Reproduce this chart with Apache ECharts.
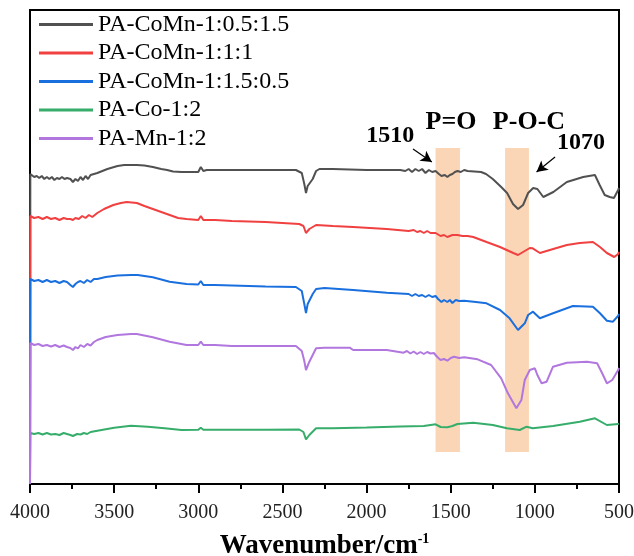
<!DOCTYPE html>
<html>
<head>
<meta charset="utf-8">
<script src="https://cdn.jsdelivr.net/npm/echarts@6/dist/echarts.min.js"></script>
<style>
html,body{margin:0;padding:0;background:#fff;}
#chart{width:634px;height:556px;}
</style>
</head>
<body>
<div id="chart"></div>
<script>
// ---- data: [wavenumber (cm-1), offset transmittance (a.u.)] ----
const seriesNames = ['PA-CoMn-1:0.5:1.5', 'PA-CoMn-1:1:1', 'PA-CoMn-1:1.5:0.5', 'PA-Co-1:2', 'PA-Mn-1:2'];
const seriesColors = ['#515151', '#F14040', '#1A6FDF', '#37AD6B', '#B177DE'];
const xTicks = [4000, 3500, 3000, 2500, 2000, 1500, 1000, 500];

const dataCoMn0515 = [[4000,0],[3998,310],[3975,307],[3960,308],[3945,306],[3930,308],[3915,305],[3900,307],[3885,305],[3870,307],[3855,304],[3840,306],[3825,305],[3810,307],[3795,305],[3780,306],[3760,305],[3745,302],[3730,305],[3715,303],[3700,307],[3685,304],[3670,308],[3655,305],[3640,309],[3620,310],[3600,311],[3570,313],[3540,315],[3500,317],[3480,318],[3440,319],[3400,319],[3365,319],[3320,318.5],[3270,317],[3220,315],[3185,314],[3150,312.5],[3100,312],[3050,312],[3000,312],[2985,317],[2970,313],[2950,314],[2800,314],[2600,314],[2420,314],[2385,311],[2370,300],[2360,291],[2350,298],[2340,297],[2320,305],[2300,313],[2280,315],[2200,315],[2000,314],[1800,314],[1770,313],[1750,315],[1730,312],[1710,315],[1690,313],[1670,315],[1650,311],[1630,314],[1610,312],[1590,313],[1570,310],[1555,308],[1535,309],[1520,307],[1505,309],[1490,310],[1475,312],[1460,313],[1440,312],[1420,314],[1400,313],[1320,312],[1290,310],[1250,305],[1200,297],[1165,291],[1130,280],[1100,275],[1070,279],[1040,291],[1010,296],[1000,298],[985,295],[950,287],[890,292],[810,302],[713,307],[643,309],[615,299],[585,289],[555,287],[530,286],[505,294],[500,296]];

const dataCoMn111 = [[4000,0],[3998,268],[3975,266],[3950,267],[3925,265],[3900,267],[3875,265],[3850,266],[3825,264],[3800,266],[3780,265],[3760,265],[3745,264],[3730,266],[3710,265],[3690,268],[3670,266],[3650,269],[3630,267],[3600,271],[3560,275],[3505,279],[3460,281],[3425,282],[3365,281],[3320,278],[3270,275],[3220,272],[3170,269],[3120,266],[3070,265],[3000,264],[2985,268],[2970,264],[2900,264],[2800,263],[2600,262],[2500,261],[2400,260],[2375,258],[2360,251],[2340,255],[2300,259],[2200,258],[2080,257],[1880,255],[1750,253],[1720,254],[1700,252],[1680,253],[1660,251],[1640,253],[1620,251],[1590,251],[1560,248],[1540,249],[1520,247],[1490,249],[1460,249],[1430,248],[1400,248],[1366,247],[1287,242],[1207,237],[1128,231],[1100,229],[1060,233],[1030,236],[1013,235.7],[970,231],[911,234],[810,239],[733,241],[655,242],[613,237],[572,231],[528,227],[505,230],[500,232]];

const dataCoMn1505 = [[4000,0],[3998,205],[3975,203],[3950,204],[3925,202],[3900,204],[3875,202],[3850,203],[3825,201],[3800,203],[3780,202],[3760,199],[3745,197],[3730,200],[3715,202],[3700,203],[3680,201],[3660,204],[3640,202],[3620,205],[3600,205],[3550,207],[3480,208.5],[3400,209],[3360,209],[3270,206.7],[3170,202.3],[3070,200],[3000,199.5],[2985,203],[2970,199],[2900,199],[2800,198.5],[2700,198],[2600,197.5],[2420,197],[2385,193],[2370,180],[2360,171],[2350,180],[2340,178],[2320,190],[2300,195],[2250,196],[2080,194],[1880,191.3],[1750,190],[1730,188],[1710,190],[1690,188],[1670,189],[1650,187],[1630,189],[1610,187],[1590,188],[1575,185],[1555,182],[1540,184],[1520,182],[1505,184],[1490,181],[1470,184],[1450,183],[1420,183.3],[1350,182],[1287,180.7],[1207,174],[1150,165.7],[1100,154],[1060,160.7],[1040,169],[1011,172.3],[970,165.7],[892,170.7],[774,178],[655,177.3],[613,170.7],[572,163.3],[536,162.3],[506,168],[500,170]];

const dataCo12 = [[4000,0],[3998,51],[3975,50],[3950,51],[3925,49.5],[3900,51],[3875,49.5],[3850,50],[3825,49],[3800,51],[3780,50],[3760,49],[3745,48],[3720,50],[3700,49.5],[3680,51],[3660,50],[3640,52],[3600,53.3],[3500,56.3],[3400,58.3],[3300,57.3],[3200,55.7],[3100,54],[3000,54.3],[2985,56.3],[2970,54.3],[2800,54.3],[2600,54.3],[2400,54.5],[2375,52],[2360,44.7],[2340,49],[2300,55.7],[2200,55.7],[2000,56.5],[1800,57.5],[1660,58],[1590,59.7],[1560,57],[1520,56.7],[1490,58],[1460,60],[1366,61.3],[1250,59],[1166,55.7],[1090,54],[1049,57.3],[1013,55.7],[892,58],[733,62.3],[643,65.7],[572,59],[505,60],[500,60.5]];

const dataMn12 = [[4000,0],[3998,141],[3975,139],[3950,140],[3925,138],[3900,139],[3875,137.5],[3850,139],[3825,137],[3800,138.5],[3780,137],[3760,136],[3745,134],[3730,137],[3715,135.5],[3700,139],[3680,137],[3660,140],[3640,138.5],[3620,142],[3600,144],[3550,147],[3480,149],[3400,150],[3365,150],[3270,146.7],[3170,142.3],[3070,139],[3000,139],[2985,142.3],[2970,139],[2900,139],[2800,138],[2600,138],[2420,138],[2385,133],[2370,123],[2360,114],[2340,122.3],[2300,135.7],[2250,136.3],[2100,136.3],[2080,134],[1880,134],[1780,131.3],[1760,133],[1740,130.5],[1720,132.5],[1700,130],[1680,132],[1660,130],[1640,132],[1620,130.5],[1600,131],[1580,127],[1560,124],[1540,125],[1520,123.3],[1500,126],[1480,127.3],[1450,126],[1420,126.7],[1340,124.7],[1260,119],[1200,105.7],[1160,90.7],[1110,75.7],[1080,84],[1060,104],[1030,114],[1000,115.7],[985,109],[960,100.7],[930,102.3],[892,117.3],[810,121.3],[690,122.3],[630,120.7],[600,110.7],[572,100.7],[540,104],[505,114],[500,116]];

const seriesData = [dataCoMn0515, dataCoMn111, dataCoMn1505, dataCo12, dataMn12];

// ---- annotations (data coordinates) ----
const bandRanges = [[1590, 1445], [1177, 1035]];
const bandValueRange = [32, 336];
const annotationTexts = [
  {text: '1510', at: [1860, 348], size: 24},
  {text: 'P=O', at: [1498, 362], size: 26},
  {text: 'P-O-C', at: [1035, 362], size: 26},
  {text: '1070', at: [726, 341], size: 24}
];
const annotationArrows = [
  [[1724, 335], [1612, 322]],
  [[880, 327], [990, 312]]
];

const FONT = "'Times New Roman', 'Liberation Serif', serif";

const chart = echarts.init(document.getElementById('chart'));

const series = seriesNames.map((name, i) => ({
  name: name,
  type: 'line',
  data: seriesData[i],
  showSymbol: false,
  symbol: 'none',
  smooth: false,
  sampling: 'none',
  lineStyle: {color: seriesColors[i], width: 2},
  itemStyle: {color: seriesColors[i]},
  z: 2 + i * 0.01,
  animation: false
}));

series.push({
  name: 'annotations',
  type: 'line',
  data: [],
  z: 10,
  silent: true,
  animation: false,
  markArea: {
    silent: true,
    itemStyle: {color: 'rgba(244,164,96,0.45)'},
    label: {show: false},
    data: bandRanges.map(r => [{coord: [r[0], bandValueRange[1]]}, {coord: [r[1], bandValueRange[0]]}])
  },
  markLine: {
    silent: true,
    symbol: ['none', 'arrow'],
    symbolSize: [9, 11],
    lineStyle: {color: '#000', width: 1.2, type: 'solid'},
    label: {show: false},
    data: annotationArrows.map(a => [{coord: a[0]}, {coord: a[1]}])
  },
  markPoint: {
    silent: true,
    symbol: 'rect',
    symbolSize: 1,
    itemStyle: {color: 'rgba(0,0,0,0)'},
    data: annotationTexts.map(t => ({
      coord: t.at,
      label: {show: true, position: 'inside', formatter: t.text, color: '#000',
              fontSize: t.size, fontWeight: 'bold', fontFamily: FONT}
    }))
  }
});

chart.setOption({
  backgroundColor: '#fff',
  animation: false,
  grid: {left: 30, right: 15, top: 10, bottom: 72, show: true, borderColor: '#000', borderWidth: 2,
         backgroundColor: 'transparent', containLabel: false, outerBoundsMode: 'none'},
  legend: {
    data: seriesNames,
    orient: 'vertical',
    left: 39,
    top: 12.5,
    padding: 0,
    itemWidth: 54,
    itemHeight: 3,
    itemGap: 4.5,
    icon: 'rect',
    selectedMode: false,
    textStyle: {fontFamily: FONT, fontSize: 24, color: '#000', lineHeight: 24}
  },
  xAxis: {
    type: 'value',
    inverse: true,
    min: 500,
    max: 4000,
    interval: 500,
    name: '{a|Wavenumber/cm}{b|-1}',
    nameLocation: 'middle',
    nameGap: 48,
    nameTextStyle: {
      rich: {
        a: {fontFamily: FONT, fontSize: 27, fontWeight: 'bold', color: '#000'},
        b: {fontFamily: FONT, fontSize: 14, fontWeight: 'bold', color: '#000', padding: [0, 0, 14, 0]}
      }
    },
    axisLine: {show: true, onZero: false, lineStyle: {color: '#000', width: 2}},
    axisTick: {show: true, inside: false, length: 9, lineStyle: {color: '#000', width: 2}},
    minorTick: {show: true, splitNumber: 2, length: 5, lineStyle: {color: '#000', width: 2}},
    splitLine: {show: false},
    axisLabel: {
      fontFamily: FONT, fontSize: 20, color: '#222', margin: 19,
      formatter: v => (xTicks.indexOf(v) >= 0 ? String(v) : '')
    }
  },
  yAxis: {
    type: 'value',
    min: 0,
    max: 474,
    show: false
  },
  series: series
});
</script>
</body>
</html>
